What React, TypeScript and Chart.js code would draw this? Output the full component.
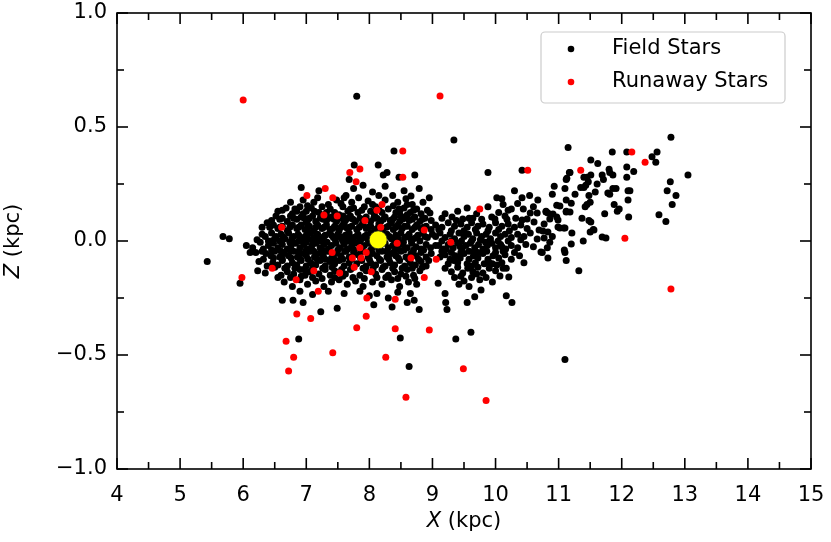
import React, { useEffect, useRef } from "react";
import { Chart, registerables } from "chart.js";

Chart.register(...registerables);

// ---- axis ticks ----
const xMajorTicks = [4, 5, 6, 7, 8, 9, 10, 11, 12, 13, 14, 15];
const xMinorTicks = [4.5, 5.5, 6.5, 7.5, 8.5, 9.5, 10.5, 11.5, 12.5, 13.5, 14.5];
const zMajorTicks = [-1, -0.5, 0, 0.5, 1];
const zMinorTicks = [-0.75, -0.25, 0.25, 0.75];

const seriesNames = ["Field Stars", "Runaway Stars"];

// ---- data: [X (kpc), Z (kpc)] ----
const fieldOutliers: [number, number][] = [
  [7.80, 0.635], [9.34, 0.443], [8.39, 0.395], [11.15, 0.41], [12.78, 0.455], [8.72, 0.29], [8.47, 0.28],
  [8.79, 0.23], [9.88, 0.30], [10.42, 0.31], [7.76, 0.333], [8.14, 0.333], [7.68, 0.27], [7.90, 0.245],
  [8.22, 0.29], [8.28, 0.30], [6.92, 0.235], [7.60, 0.19], [8.37, 0.20], [6.82, 0.14], [5.68, 0.02],
  [5.78, 0.01], [6.22, 0.005], [6.27, -0.005], [5.43, -0.09], [5.95, -0.185], [6.23, -0.13], [6.11, -0.05],
  [6.62, -0.26], [6.79, -0.26], [6.95, -0.27], [7.23, -0.31], [7.49, -0.295], [8.07, -0.28], [8.12, -0.23],
  [8.30, -0.25], [8.36, -0.29], [6.88, -0.43], [8.60, -0.27], [8.71, -0.26], [8.79, -0.30], [8.49, -0.425],
  [8.63, -0.55], [9.37, -0.43], [9.61, -0.40], [11.10, -0.52], [11.32, -0.13], [9.20, -0.23], [9.21, -0.27],
  [9.23, -0.30], [9.55, -0.27], [9.67, -0.245], [10.17, -0.24], [10.26, -0.27], [10.45, -0.095], [9.42, -0.19],
  [9.58, -0.20], [9.09, -0.185], [8.66, 0.197], [8.60, 0.16], [8.47, 0.14], [6.25, -0.09], [6.05, -0.02],
];

const fieldMainCluster: [number, number][] = [
  [6.95, 0.18], [7.12, 0.17], [7.18, 0.19], [7.35, 0.16], [7.48, 0.18], [7.55, 0.165], [7.72, 0.17], [7.83, 0.19],
  [7.98, 0.175], [8.05, 0.16], [8.25, 0.18], [8.45, 0.17], [8.58, 0.185], [8.68, 0.16], [8.85, 0.17], [7.02, 0.155],
  [7.63, 0.2], [8.15, 0.2], [8.95, 0.19], [6.75, 0.17], [7.2, 0.22], [7.75, 0.23], [8.05, 0.215], [8.55, 0.22], [8.25, 0.24],
  [6.55, 0.13], [6.68, 0.145], [6.78, 0.12], [6.9, 0.15], [7.0, 0.13], [7.08, 0.145], [7.2, 0.125], [7.25, 0.15],
  [7.38, 0.14], [7.45, 0.125], [7.58, 0.15], [7.66, 0.13], [7.75, 0.145], [7.82, 0.125], [7.92, 0.15], [8.02, 0.13],
  [8.1, 0.15], [8.2, 0.125], [8.3, 0.14], [8.38, 0.155], [8.48, 0.13], [8.55, 0.145], [8.65, 0.125], [8.75, 0.14],
  [8.82, 0.12], [8.92, 0.135], [6.95, 0.12], [7.52, 0.115], [8.08, 0.115], [8.6, 0.115],
  [6.45, 0.09], [6.52, 0.11], [6.62, 0.1], [6.7, 0.085], [6.75, 0.11], [6.85, 0.095], [6.92, 0.105], [7.02, 0.09],
  [7.1, 0.11], [7.15, 0.085], [7.22, 0.1], [7.32, 0.09], [7.4, 0.105], [7.48, 0.085], [7.55, 0.1], [7.62, 0.09],
  [7.7, 0.11], [7.78, 0.085], [7.85, 0.1], [7.95, 0.105], [8.02, 0.085], [8.12, 0.1], [8.18, 0.085], [8.25, 0.105],
  [8.33, 0.09], [8.4, 0.105], [8.48, 0.085], [8.56, 0.1], [8.63, 0.09], [8.72, 0.105], [8.8, 0.085], [8.88, 0.1],
  [8.98, 0.09], [6.38, 0.08], [7.28, 0.115], [7.9, 0.08], [8.5, 0.11],
  [6.3, 0.06], [6.48, 0.07], [6.55, 0.055], [6.62, 0.065], [6.7, 0.045], [6.78, 0.07], [6.85, 0.055],
  [6.92, 0.07], [6.98, 0.05], [7.05, 0.065], [7.12, 0.045], [7.18, 0.07], [7.25, 0.055], [7.32, 0.07], [7.38, 0.05],
  [7.45, 0.065], [7.52, 0.045], [7.58, 0.07], [7.65, 0.055], [7.72, 0.065], [7.8, 0.05], [7.88, 0.07], [7.95, 0.055],
  [8.02, 0.065], [8.08, 0.045], [8.15, 0.075], [8.22, 0.055], [8.3, 0.065], [8.38, 0.05], [8.45, 0.07], [8.52, 0.055],
  [8.6, 0.065], [8.68, 0.05], [8.75, 0.07], [8.82, 0.055], [8.9, 0.065], [8.98, 0.05], [7.0, 0.08], [7.6, 0.08], [8.35, 0.08],
  [6.3, 0.03], [6.45, 0.035], [6.52, 0.02], [6.6, 0.03], [6.66, 0.01], [6.72, 0.035], [6.8, 0.02],
  [6.87, 0.03], [6.93, 0.01], [7.0, 0.025], [7.06, 0.035], [7.12, 0.015], [7.18, 0.03], [7.25, 0.01], [7.3, 0.025],
  [7.37, 0.035], [7.43, 0.015], [7.5, 0.03], [7.56, 0.01], [7.62, 0.025], [7.68, 0.035], [7.75, 0.015], [7.82, 0.03],
  [7.88, 0.01], [7.95, 0.025], [8.02, 0.035], [8.08, 0.015], [8.28, 0.03], [8.35, 0.01], [8.42, 0.025], [8.5, 0.035],
  [8.56, 0.015], [8.63, 0.03], [8.7, 0.01], [8.77, 0.025], [8.85, 0.035], [8.92, 0.015], [9.0, 0.03], [6.4, 0.0],
  [7.1, 0.0], [7.65, 0.0], [8.2, 0.035],
  [6.15, -0.03], [6.32, -0.035], [6.4, -0.02], [6.48, -0.01], [6.55, -0.03], [6.62, -0.015], [6.7, -0.035],
  [6.76, -0.02], [6.83, -0.01], [6.9, -0.03], [6.96, -0.015], [7.03, -0.035], [7.09, -0.02], [7.15, -0.01], [7.22, -0.03],
  [7.28, -0.015], [7.35, -0.035], [7.4, -0.02], [7.47, -0.01], [7.53, -0.03], [7.6, -0.015], [7.66, -0.035], [7.72, -0.02],
  [7.79, -0.01], [7.86, -0.035], [7.92, -0.02], [7.99, -0.01], [8.3, -0.03], [8.37, -0.02], [8.45, -0.035], [8.52, -0.015],
  [8.6, -0.03], [8.67, -0.01], [8.74, -0.025], [8.82, -0.035], [8.9, -0.015], [8.97, -0.03], [9.05, -0.02], [8.25, -0.01],
  [8.05, -0.03],
  [6.2, -0.05], [6.36, -0.055], [6.44, -0.065], [6.5, -0.045], [6.58, -0.07], [6.65, -0.055], [6.72, -0.065],
  [6.8, -0.045], [6.86, -0.07], [6.93, -0.055], [7.0, -0.065], [7.06, -0.045], [7.13, -0.07], [7.2, -0.055], [7.27, -0.065],
  [7.33, -0.045], [7.4, -0.075], [7.47, -0.055], [7.55, -0.065], [7.61, -0.045], [7.68, -0.07], [7.75, -0.05], [7.82, -0.06],
  [7.9, -0.045], [7.98, -0.07], [8.05, -0.055], [8.12, -0.065], [8.2, -0.045], [8.28, -0.07], [8.35, -0.055], [8.42, -0.065],
  [8.5, -0.045], [8.58, -0.07], [8.66, -0.055], [8.74, -0.065], [8.82, -0.05], [8.9, -0.07], [8.98, -0.055],
  [6.38, -0.11], [6.47, -0.095], [6.55, -0.105], [6.62, -0.085], [6.7, -0.11], [6.78, -0.095], [6.85, -0.105],
  [6.92, -0.085], [7.0, -0.11], [7.07, -0.095], [7.15, -0.105], [7.22, -0.085], [7.3, -0.11], [7.37, -0.09], [7.45, -0.1],
  [7.52, -0.085], [7.6, -0.11], [7.68, -0.095], [7.8, -0.1], [7.88, -0.085], [7.95, -0.11], [8.02, -0.095], [8.1, -0.105],
  [8.18, -0.085], [8.25, -0.11], [8.33, -0.095], [8.4, -0.105], [8.48, -0.085], [8.56, -0.11], [8.65, -0.095], [8.73, -0.105],
  [8.82, -0.09], [8.9, -0.11],
  [6.35, -0.14], [6.6, -0.15], [6.7, -0.135], [6.8, -0.145], [6.9, -0.125], [6.98, -0.15], [7.05, -0.135],
  [7.2, -0.145], [7.3, -0.125], [7.38, -0.15], [7.45, -0.13], [7.62, -0.145], [7.7, -0.125], [7.85, -0.15], [7.95, -0.13],
  [8.1, -0.145], [8.2, -0.125], [8.3, -0.15], [8.4, -0.135], [8.5, -0.145], [8.6, -0.125], [8.7, -0.15], [8.8, -0.13],
  [6.65, -0.18], [6.78, -0.2], [6.9, -0.17], [7.02, -0.19], [7.15, -0.175], [7.28, -0.2], [7.4, -0.18], [7.52, -0.17],
  [7.65, -0.19], [7.78, -0.175], [7.9, -0.2], [8.05, -0.18], [8.2, -0.19], [8.35, -0.17], [8.48, -0.2], [8.62, -0.18],
  [8.75, -0.19], [6.9, -0.22], [7.1, -0.235], [7.35, -0.22], [7.6, -0.23], [7.85, -0.22], [8.0, -0.24], [8.45, -0.225],
  [8.65, -0.23],
];

const fieldMainCore: [number, number][] = [
  [6.62, 0.135], [6.85, 0.13], [7.13, 0.13], [7.32, 0.125], [7.7, 0.14], [7.88, 0.135], [8.15, 0.14], [8.42, 0.125], [8.7, 0.135],
  [6.58, 0.095], [6.8, 0.1], [6.97, 0.1], [7.05, 0.1], [7.27, 0.095], [7.36, 0.1], [7.44, 0.095], [7.58, 0.11], [7.66, 0.1],
  [7.74, 0.095], [7.9, 0.095], [8.07, 0.1], [8.22, 0.095], [8.37, 0.095], [8.52, 0.095], [8.68, 0.095], [8.84, 0.095],
  [6.42, 0.06], [6.58, 0.06], [6.74, 0.06], [6.88, 0.06], [7.02, 0.055], [7.15, 0.06], [7.28, 0.06], [7.42, 0.055],
  [7.55, 0.06], [7.68, 0.06], [7.84, 0.06], [7.98, 0.06], [8.12, 0.055], [8.27, 0.06], [8.42, 0.06], [8.56, 0.065],
  [8.72, 0.06], [8.86, 0.06],
  [6.35, 0.02], [6.5, 0.01], [6.63, 0.02], [6.77, 0.01], [6.9, 0.02], [7.03, 0.01], [7.16, 0.02], [7.28, 0.02],
  [7.4, 0.025], [7.53, 0.02], [7.66, 0.015], [7.79, 0.02], [7.92, 0.02], [8.05, 0.01], [8.32, 0.02], [8.46, 0.01],
  [8.6, 0.02], [8.74, 0.015], [8.88, 0.02],
  [6.45, -0.0], [6.58, 0.0], [6.74, -0.005], [6.88, 0.0], [7.0, -0.005], [7.2, 0.0], [7.33, -0.005], [7.46, 0.005],
  [7.58, -0.0], [7.72, 0.0], [7.85, 0.0], [7.98, 0.005], [8.4, 0.0], [8.54, -0.005], [8.66, 0.005], [8.8, 0.0],
  [6.3, -0.045], [6.45, -0.04], [6.6, -0.045], [6.74, -0.04], [6.88, -0.045], [7.0, -0.04], [7.12, -0.045], [7.25, -0.04],
  [7.37, -0.045], [7.5, -0.04], [7.63, -0.045], [7.76, -0.04], [7.89, -0.045], [8.02, -0.04], [8.15, -0.04], [8.27, -0.045],
  [8.4, -0.045], [8.55, -0.04], [8.7, -0.04], [8.86, -0.04],
  [6.32, -0.08], [6.48, -0.075], [6.62, -0.08], [6.76, -0.075], [6.9, -0.08], [7.03, -0.08], [7.17, -0.08], [7.3, -0.08],
  [7.44, -0.08], [7.58, -0.08], [7.72, -0.08], [7.86, -0.075], [8.0, -0.08], [8.16, -0.08], [8.31, -0.08], [8.46, -0.075],
  [8.62, -0.08], [8.78, -0.08], [8.94, -0.085],
  [6.5, -0.115], [6.66, -0.12], [6.82, -0.12], [6.96, -0.125], [7.1, -0.12], [7.26, -0.12], [7.41, -0.115], [7.56, -0.125],
  [7.72, -0.12], [7.9, -0.12], [8.06, -0.12], [8.22, -0.115], [8.37, -0.12], [8.52, -0.12], [8.68, -0.12], [8.84, -0.115],
  [6.55, -0.16], [6.75, -0.16], [6.92, -0.155], [7.1, -0.16], [7.25, -0.165], [7.45, -0.16], [7.58, -0.155], [7.74, -0.16],
  [7.92, -0.165], [8.12, -0.16], [8.26, -0.16], [8.45, -0.165], [8.58, -0.155], [8.72, -0.165],
];

const fieldSecondCluster: [number, number][] = [
  [9.2, 0.12], [9.4, 0.13], [9.7, 0.12], [10.05, 0.125], [10.15, 0.11], [8.96, 0.123], [9.15, 0.10], [9.31, 0.105],
  [9.48, 0.096], [9.64, 0.10], [9.94, 0.105], [9.99, 0.096], [10.32, 0.10], [10.42, 0.092], [10.50, 0.096], [10.61, 0.083],
  [9.05, 0.07], [9.15, 0.06], [9.25, 0.08], [9.35, 0.065], [9.45, 0.075], [9.55, 0.06], [9.62, 0.08], [9.72, 0.065],
  [9.8, 0.075], [9.9, 0.06], [10.0, 0.08], [10.1, 0.065], [10.2, 0.075], [10.3, 0.06], [10.4, 0.07], [10.5, 0.055],
  [9.05, 0.02], [9.12, 0.035], [9.2, 0.015], [9.28, 0.03], [9.35, 0.01], [9.42, 0.035], [9.5, 0.02], [9.57, 0.03],
  [9.64, 0.01], [9.7, 0.035], [9.78, 0.02], [9.85, 0.03], [9.92, 0.01], [10.0, 0.035], [10.08, 0.02], [10.15, 0.03],
  [10.25, 0.015], [10.35, 0.03], [10.45, 0.02], [10.55, 0.035],
  [9.1, -0.02], [9.18, -0.035], [9.25, -0.015], [9.33, -0.03], [9.4, -0.01], [9.47, -0.035], [9.53, -0.02], [9.6, -0.01],
  [9.67, -0.03], [9.73, -0.015], [9.8, -0.035], [9.87, -0.02], [9.94, -0.01], [10.0, -0.03], [10.08, -0.015], [10.16, -0.035],
  [10.25, -0.02], [10.35, -0.03], [10.48, -0.015], [10.6, -0.025],
  [9.12, -0.07], [9.2, -0.06], [9.28, -0.08], [9.36, -0.065], [9.44, -0.075], [9.5, -0.055], [9.58, -0.08], [9.65, -0.065],
  [9.72, -0.075], [9.8, -0.055], [9.88, -0.08], [9.96, -0.065], [10.05, -0.075], [10.15, -0.06], [10.25, -0.08], [10.38, -0.065],
  [9.2, -0.12], [9.3, -0.135], [9.4, -0.115], [9.48, -0.14], [9.56, -0.12], [9.64, -0.135], [9.72, -0.115], [9.8, -0.14],
  [9.9, -0.12], [10.0, -0.13], [10.12, -0.12], [10.17, -0.12], [10.21, -0.158], [10.07, -0.154],
  [9.35, -0.16], [9.5, -0.175], [9.62, -0.16], [9.75, -0.17], [9.85, -0.16], [9.95, -0.18], [9.77, -0.215],
  [9.1, 0.05], [9.3, 0.045], [9.5, 0.045], [9.68, 0.05], [9.88, 0.045], [10.05, 0.05], [10.22, 0.045],
  [9.15, 0.0], [9.3, 0.0], [9.46, 0.0], [9.62, -0.0], [9.76, 0.005], [9.9, 0.0], [10.04, 0.0], [10.2, 0.0], [10.4, 0.005],
  [9.15, -0.045], [9.3, -0.05], [9.45, -0.05], [9.58, -0.045], [9.72, -0.05], [9.86, -0.045], [10.0, -0.05], [10.12, -0.045],
  [10.3, -0.05], [9.25, -0.1], [9.4, -0.095], [9.55, -0.1], [9.68, -0.095], [9.82, -0.1], [9.95, -0.1], [10.1, -0.095],
  [9.38, 0.09], [9.58, 0.1], [9.78, 0.095], [10.18, 0.095], [9.22, -0.035], [9.44, -0.025], [9.66, -0.045], [9.84, -0.005],
  [10.1, -0.025], [9.34, -0.085], [9.62, -0.11], [9.9, -0.095], [9.45, -0.155], [9.7, -0.145], [10.02, -0.105],
];

const fieldOuterBand: [number, number][] = [
  [11.13, 0.275], [10.93, 0.24], [10.90, 0.205], [10.02, 0.19], [10.10, 0.185], [10.12, 0.16], [10.42, 0.19],
  [10.67, 0.18], [10.97, 0.157], [11.12, 0.18], [9.55, 0.145], [9.88, 0.15], [10.20, 0.135], [10.25, 0.14],
  [10.44, 0.14], [10.55, 0.123], [10.66, 0.123], [10.80, 0.127], [10.91, 0.118], [11.12, 0.127],
  [10.69, 0.048], [10.83, 0.04], [10.99, 0.061], [11.08, 0.057], [10.66, 0.009], [10.72, -0.048],
  [12.08, 0.39], [12.56, 0.39], [12.48, 0.37], [12.54, 0.345], [11.85, 0.39], [11.51, 0.355], [11.62, 0.34],
  [11.17, 0.30], [11.12, 0.27], [11.80, 0.315], [11.81, 0.30], [11.86, 0.29], [12.08, 0.325], [12.08, 0.28],
  [12.19, 0.305], [13.05, 0.29], [12.77, 0.26], [12.72, 0.22], [12.86, 0.20], [12.80, 0.16], [12.59, 0.115],
  [12.70, 0.085], [12.11, 0.105], [12.10, 0.18], [12.10, 0.22], [12.13, 0.22], [11.91, 0.23], [11.86, 0.23],
  [11.78, 0.21], [11.81, 0.205], [11.88, 0.16], [11.96, 0.14], [11.93, 0.13], [11.73, 0.12], [11.69, 0.018],
  [11.75, 0.013], [11.50, 0.04], [11.55, 0.05], [11.39, 0.0], [11.20, -0.013], [11.09, -0.04], [11.10, -0.05],
  [11.12, -0.085], [10.83, -0.075], [10.74, -0.05], [10.82, -0.03], [10.86, -0.005], [10.77, 0.013], [10.90, 0.02],
  [10.75, 0.044], [11.02, 0.057], [11.10, 0.057], [11.21, 0.035], [11.37, 0.10], [11.48, 0.09], [11.51, 0.083],
  [11.56, 0.048], [10.77, 0.075], [10.97, 0.105], [10.99, 0.092], [11.12, 0.13], [11.18, 0.127], [10.80, 0.13],
  [10.83, 0.123], [11.20, 0.166], [11.26, 0.205], [11.42, 0.15], [11.45, 0.16], [11.50, 0.17], [11.10, 0.23],
  [11.35, 0.235], [11.40, 0.235], [11.43, 0.245], [11.48, 0.20], [11.47, 0.26], [11.45, 0.28], [11.51, 0.29],
  [11.58, 0.215], [11.61, 0.25], [11.69, 0.29], [11.71, 0.27], [11.18, 0.30], [11.40, 0.28], [11.02, 0.153],
  [10.86, 0.096], [10.54, 0.2], [10.6, 0.15], [10.35, 0.165], [10.3, 0.22],
];

const runawayStars: [number, number][] = [
  [6.00, 0.618], [9.12, 0.636], [8.53, 0.395], [7.69, 0.30], [7.85, 0.316], [7.79, 0.26], [7.01, 0.20], [7.30, 0.23],
  [7.42, 0.19], [8.53, 0.28], [10.51, 0.31], [11.35, 0.31], [12.16, 0.39], [12.37, 0.345], [9.75, 0.14], [8.20, 0.16],
  [8.12, 0.135], [7.28, 0.114], [7.49, 0.11], [7.93, 0.09], [6.61, 0.06], [8.18, 0.06], [8.87, 0.048], [8.44, -0.01],
  [7.85, -0.03], [7.95, -0.05], [7.41, -0.05], [7.73, -0.075], [7.87, -0.075], [8.66, -0.075], [9.06, -0.08], [9.29, -0.005],
  [7.76, -0.115], [8.03, -0.135], [7.53, -0.14], [7.12, -0.13], [6.46, -0.12], [5.98, -0.16], [6.84, -0.17], [8.87, -0.16],
  [7.19, -0.22], [7.96, -0.25], [8.41, -0.255], [12.05, 0.012], [12.78, -0.21], [6.85, -0.32], [7.07, -0.34], [7.95, -0.33],
  [7.80, -0.38], [8.41, -0.385], [8.95, -0.39], [6.68, -0.44], [6.80, -0.51], [7.42, -0.49], [8.26, -0.51], [9.49, -0.56],
  [6.72, -0.57], [8.58, -0.685], [9.85, -0.70],
];

const sunPosition: [number, number][] = [[8.14, 0.005]];

const FONT = "'DejaVu Sans', sans-serif";
const FONT_SIZE = 21;
const DOT_RADIUS = 3.5;

const toPts = (arr: [number, number][]) => arr.map(([x, y]) => ({ x, y }));

const fmtZ = (v: number) => {
  const s = Math.abs(v).toFixed(1);
  return v < -1e-9 ? "\u2212" + s : s;
};

const zeroPadding = (s: any) => {
  s.paddingTop = 0;
  s.paddingBottom = 0;
  s.paddingLeft = 0;
  s.paddingRight = 0;
};

const framePlugin = {
  id: "frameTicks",
  afterDatasetsDraw(chart: any) {
    const { ctx, chartArea: a, scales } = chart;
    const xs = scales.x;
    const ys = scales.y;
    ctx.save();
    ctx.strokeStyle = "#000";
    ctx.lineWidth = 1.6;
    ctx.lineCap = "butt";
    const seg = (x1: number, y1: number, x2: number, y2: number) => {
      ctx.beginPath();
      ctx.moveTo(x1, y1);
      ctx.lineTo(x2, y2);
      ctx.stroke();
    };
    const major = 11;
    const minor = 7;
    xMajorTicks.forEach((v) => {
      const p = xs.getPixelForValue(v);
      seg(p, a.bottom, p, a.bottom - major);
      seg(p, a.top, p, a.top + major);
    });
    xMinorTicks.forEach((v) => {
      const p = xs.getPixelForValue(v);
      seg(p, a.bottom, p, a.bottom - minor);
      seg(p, a.top, p, a.top + minor);
    });
    zMajorTicks.forEach((v) => {
      const p = ys.getPixelForValue(v);
      seg(a.left, p, a.left + major, p);
      seg(a.right, p, a.right - major, p);
    });
    zMinorTicks.forEach((v) => {
      const p = ys.getPixelForValue(v);
      seg(a.left, p, a.left + minor, p);
      seg(a.right, p, a.right - minor, p);
    });
    ctx.strokeRect(a.left, a.top, a.right - a.left, a.bottom - a.top);
    ctx.restore();
  },
  afterDraw(chart: any) {
    const { ctx, chartArea: a } = chart;
    ctx.save();
    const regular = `${FONT_SIZE}px ${FONT}`;
    const italic = `italic ${FONT_SIZE}px ${FONT}`;
    const drawTitle = (v: string, rest: string, cx: number, cy: number, rot: number) => {
      ctx.save();
      ctx.translate(cx, cy);
      ctx.rotate(rot);
      ctx.fillStyle = "#000";
      ctx.textBaseline = "middle";
      ctx.textAlign = "left";
      ctx.font = italic;
      const w1 = ctx.measureText(v).width;
      ctx.font = regular;
      const w2 = ctx.measureText(rest).width;
      const start = -(w1 + w2) / 2;
      ctx.font = italic;
      ctx.fillText(v, start, 0);
      ctx.font = regular;
      ctx.fillText(rest, start + w1, 0);
      ctx.restore();
    };
    drawTitle("X", " (kpc)", (a.left + a.right) / 2, 522, 0);
    drawTitle("Z", " (kpc)", 14, (a.top + a.bottom) / 2, -Math.PI / 2);

    // legend
    const lx = 541, ly = 32, lw = 244, lh = 71, r = 4;
    ctx.beginPath();
    ctx.moveTo(lx + r, ly);
    ctx.lineTo(lx + lw - r, ly);
    ctx.arcTo(lx + lw, ly, lx + lw, ly + r, r);
    ctx.lineTo(lx + lw, ly + lh - r);
    ctx.arcTo(lx + lw, ly + lh, lx + lw - r, ly + lh, r);
    ctx.lineTo(lx + r, ly + lh);
    ctx.arcTo(lx, ly + lh, lx, ly + lh - r, r);
    ctx.lineTo(lx, ly + r);
    ctx.arcTo(lx, ly, lx + r, ly, r);
    ctx.closePath();
    ctx.fillStyle = "rgba(255,255,255,0.8)";
    ctx.fill();
    ctx.strokeStyle = "#cccccc";
    ctx.lineWidth = 1.2;
    ctx.stroke();
    const colors = ["#000000", "#ff0000"];
    const rows = [49, 82];
    seriesNames.forEach((name, i) => {
      ctx.beginPath();
      ctx.arc(571, rows[i], 3.3, 0, Math.PI * 2);
      ctx.fillStyle = colors[i];
      ctx.fill();
      ctx.fillStyle = "#000";
      ctx.font = regular;
      ctx.textAlign = "left";
      ctx.textBaseline = "middle";
      ctx.fillText(name, 612, rows[i]);
    });
    ctx.restore();
  },
};

export default function App() {
  const canvasRef = useRef<HTMLCanvasElement | null>(null);

  useEffect(() => {
    document.body.style.margin = "0";
    const canvas = canvasRef.current;
    if (!canvas) return;
    const field = [
      ...fieldOutliers,
      ...fieldMainCluster,
      ...fieldMainCore,
      ...fieldSecondCluster,
      ...fieldOuterBand,
    ];
    const chart = new Chart(canvas, {
      type: "scatter",
      data: {
        datasets: [
          {
            label: "Sun",
            data: toPts(sunPosition),
            backgroundColor: "#ffff00",
            borderColor: "#222222",
            borderWidth: 0.8,
            pointRadius: 9,
            pointHoverRadius: 9,
            order: 0,
          },
          {
            label: seriesNames[1],
            data: toPts(runawayStars),
            backgroundColor: "#ff0000",
            borderWidth: 0,
            pointRadius: DOT_RADIUS,
            pointHoverRadius: DOT_RADIUS,
            order: 1,
          },
          {
            label: seriesNames[0],
            data: toPts(field),
            backgroundColor: "#000000",
            borderWidth: 0,
            pointRadius: DOT_RADIUS,
            pointHoverRadius: DOT_RADIUS,
            order: 2,
          },
        ],
      },
      options: {
        responsive: false,
        animation: false,
        events: [],
        layout: { padding: { top: 13, right: 20, left: 0, bottom: 0 } },
        plugins: { legend: { display: false }, tooltip: { enabled: false } },
        scales: {
          x: {
            type: "linear",
            min: 4,
            max: 15,
            afterFit: (s: any) => {
              s.height = 73;
              zeroPadding(s);
            },
            afterBuildTicks: (s: any) => {
              s.ticks = xMajorTicks.map((v) => ({ value: v }));
            },
            ticks: {
              padding: 14,
              color: "#000",
              font: { family: FONT, size: FONT_SIZE },
              callback: (v: any) => String(v),
              maxRotation: 0,
              autoSkip: false,
            },
            grid: { display: false, drawTicks: false },
            border: { display: false },
          },
          y: {
            type: "linear",
            min: -1,
            max: 1,
            afterFit: (s: any) => {
              s.width = 117;
              zeroPadding(s);
            },
            afterBuildTicks: (s: any) => {
              s.ticks = zMajorTicks.map((v) => ({ value: v }));
            },
            ticks: {
              padding: 10,
              color: "#000",
              font: { family: FONT, size: FONT_SIZE },
              callback: (v: any) => fmtZ(Number(v)),
              autoSkip: false,
            },
            grid: { display: false, drawTicks: false },
            border: { display: false },
          },
        },
      },
      plugins: [framePlugin],
    });
    return () => chart.destroy();
  }, []);

  return (
    <div style={{ width: 831, height: 542, position: "relative", background: "#fff" }}>
      <canvas ref={canvasRef} width={831} height={542} style={{ display: "block" }} />
    </div>
  );
}
